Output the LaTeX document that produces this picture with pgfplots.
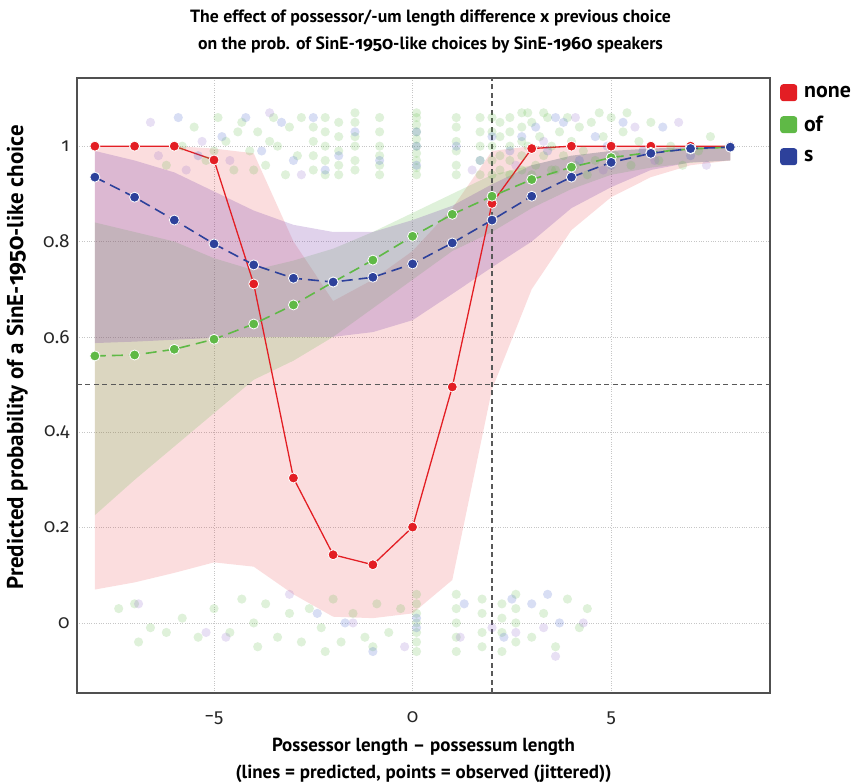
\documentclass[border=0pt]{standalone}
\usepackage{fontspec}
\setmainfont{PT Sans}
\newfontfamily\numfont[Numbers=OldStyle]{Fira Sans}
\usepackage{pgfplots}
\pgfplotsset{compat=1.18}
\definecolor{cR}{RGB}{227,30,36}
\definecolor{cG}{RGB}{95,185,70}
\definecolor{cB}{RGB}{45,65,155}
\definecolor{bandB}{RGB}{120,60,170}
\definecolor{sB}{RGB}{60,90,200}
\definecolor{sP}{RGB}{140,100,200}
\definecolor{frame}{RGB}{80,80,80}
\begin{document}
\begin{tikzpicture}
\begin{axis}[
  at={(0,0)}, anchor=south west,
  scale only axis,
  width=693bp, height=615bp,
  xmin=-8.45, xmax=9.0,
  ymin=-0.147, ymax=1.143,
  axis line style={frame, line width=1.2bp},
  xtick={-5,0,5}, xticklabels={−5,0,5},
  ytick={0,0.2,0.4,0.6,0.8,1}, yticklabels={0,0.2,0.4,0.6,0.8,1},
  major tick length=0pt,
  tick label style={font=\numfont\fontsize{19}{22}\selectfont, text=black!85},
  xticklabel style={yshift=-15bp},
  yticklabel style={xshift=-4bp},
  grid=major,
  major grid style={dotted, gray!45, line width=0.6bp},
  title={The effect of possessor/-um length difference x previous choice\\on the prob. of SinE-{\numfont 1950}-like choices by SinE-{\numfont 1960} speakers},
  title style={align=center, font=\bfseries\fontsize{17.8}{27}\selectfont, yshift=15.5bp, xshift=7bp},
  xlabel={Possessor length – possessum length\\(lines = predicted, points = observed (jittered))},
  xlabel style={align=center, font=\bfseries\fontsize{19}{27}\selectfont, yshift=-7bp},
  ylabel={Predicted probability of a SinE-{\numfont 1950}-like choice},
  ylabel style={at={(axis description cs:-0.066,0.546)}, anchor=south, font=\bfseries\fontsize{23}{26}\selectfont},
  legend style={at={(1,1)}, anchor=north west, xshift=10bp, yshift=-6bp, draw=none, fill=none,
    font=\bfseries\fontsize{22}{25}\selectfont, row sep=13bp, column sep=5bp, inner sep=0pt, cells={anchor=west}},
  legend image code/.code={\fill[rounded corners=3bp] (0bp,-8.5bp) rectangle (17bp,8.5bp);},
]
\addlegendimage{fill=cR, draw=none}\addlegendentry{none}
\addlegendimage{fill=cG, draw=none}\addlegendentry{of}
\addlegendimage{fill=cB, draw=none}\addlegendentry{s}

% confidence bands
\addplot[fill=cR, fill opacity=0.15, draw=none] coordinates {
(-8,1.0)(-7,1.0)(-6,1.0)(-5,0.995)(-4,0.985)(-3,0.80)(-2,0.675)(-1,0.72)(0,0.78)(1,0.87)(2,0.99)(3,1.0)(4,1.0)(5,1.0)(6,1.0)(7,1.0)(8,1.0)
(8,0.97)(7,0.96)(6,0.935)(5,0.893)(4,0.824)(3,0.70)(2,0.49)(1,0.09)(0,0.02)(-1,0.01)(-2,0.013)(-3,0.06)(-4,0.118)(-5,0.127)(-6,0.105)(-7,0.085)(-8,0.07)} -- cycle;
\addplot[fill=cG, fill opacity=0.2, draw=none] coordinates {
(-8,0.84)(-7,0.82)(-6,0.80)(-5,0.765)(-4,0.74)(-3,0.76)(-2,0.785)(-1,0.82)(0,0.86)(1,0.90)(2,0.94)(3,0.96)(4,0.98)(5,0.99)(6,0.995)(7,0.998)(8,0.999)
(8,0.97)(7,0.965)(6,0.955)(5,0.94)(4,0.91)(3,0.87)(2,0.82)(1,0.78)(0,0.72)(-1,0.66)(-2,0.60)(-3,0.55)(-4,0.51)(-5,0.44)(-6,0.37)(-7,0.30)(-8,0.226)} -- cycle;
\addplot[fill=bandB, fill opacity=0.23, draw=none] coordinates {
(-8,0.99)(-7,0.97)(-6,0.945)(-5,0.905)(-4,0.865)(-3,0.835)(-2,0.82)(-1,0.82)(0,0.845)(1,0.875)(2,0.92)(3,0.96)(4,0.98)(5,0.99)(6,0.995)(7,0.998)(8,0.999)
(8,0.97)(7,0.966)(6,0.95)(5,0.914)(4,0.87)(3,0.80)(2,0.746)(1,0.69)(0,0.635)(-1,0.61)(-2,0.60)(-3,0.60)(-4,0.60)(-5,0.598)(-6,0.594)(-7,0.59)(-8,0.587)} -- cycle;

% observed points (jittered)
\addplot[only marks, mark=*, mark size=4.6bp, color=cG, draw opacity=0, fill opacity=0.2, mark options={draw=none, draw opacity=0, fill=cG, fill opacity=0.2}] coordinates {
(0.1,0.94)(0.1,0.955)(0.1,0.97)(0.1,0.985)(0.1,1.0)(0.1,1.015)(0.1,1.03)(0.1,1.045)(0.1,1.06)(0.1,1.07)
(-0.83,0.94)(-0.83,0.96)(-0.83,0.98)(-0.83,1.0)(-0.83,1.03)(-0.83,1.06)
(1.1,0.94)(1.1,0.96)(1.1,0.99)(1.1,1.01)(1.1,1.04)(1.1,1.06)
(1.7,0.94)(1.7,0.97)(1.7,1.0)(1.7,1.03)(1.7,1.06)
(-1.45,0.95)(-1.45,0.97)(-1.45,1.0)(-1.45,1.02)(-1.45,1.05)(-1.45,1.07)
(-1.86,0.94)(-1.86,0.96)(-1.86,0.99)(-1.86,1.02)(-1.86,1.05)
(-2.2,0.94)(-2.2,0.97)(-2.2,1.0)(-2.2,1.03)(-2.2,1.06)
(-2.5,0.95)(-2.5,0.98)(-2.5,1.01)(-2.5,1.04)
(2.0,0.94)(2.0,0.97)(2.0,1.0)(2.0,1.03)(2.0,1.06)
(2.2,0.95)(2.2,0.98)(2.2,1.02)(2.2,1.05)
(2.45,0.94)(2.45,0.97)(2.45,1.0)(2.45,1.03)(2.45,1.06)
(2.75,0.95)(2.75,0.98)(2.75,1.01)(2.75,1.04)(2.75,1.07)
(-5.8,1.0)(-5.5,1.04)(-5.2,0.97)(-4.9,1.06)(-4.7,1.01)(-4.5,0.95)(-4.3,1.05)(-4.1,0.99)(-3.9,1.03)(-3.7,0.96)(-3.5,1.06)(-3.4,1.0)(-3.2,0.94)(-3.1,1.04)(-2.9,0.98)(-2.8,1.06)(-4.0,0.95)(-3.6,1.01)(-5.0,0.99)(-4.4,1.03)(-6.2,0.96)
(2.9,1.0)(3.0,1.05)(3.1,0.96)(3.2,1.02)(3.3,0.98)(3.4,1.06)(3.5,1.0)(3.6,0.95)(3.7,1.03)(3.8,0.98)(3.9,1.06)(4.0,1.01)(4.1,0.96)(4.2,1.04)(4.3,0.99)(4.5,1.05)(4.6,0.97)(4.8,1.02)(5.0,1.06)(5.1,0.98)(5.3,1.03)(5.5,0.96)(5.7,1.01)(6.0,1.05)(6.2,0.97)(6.5,1.0)(6.8,0.96)(7.2,0.99)(7.5,1.02)(3.0,0.94)(3.5,0.95)(4.4,0.94)(2.9,1.07)(3.3,1.07)(4.7,1.07)(5.4,1.07)
(-7.4,0.03)(-7.0,0.04)(-6.6,-0.01)(-6.2,-0.02)(-5.8,0.01)(-5.4,-0.03)(-5.0,0.03)(-4.6,-0.02)(-4.3,0.05)(-4.0,0.0)(-3.7,0.04)(-3.4,-0.03)(-3.1,0.02)(-2.8,-0.04)(-2.6,0.03)(-2.3,-0.01)(-2.0,0.05)(-1.8,-0.04)(-1.5,0.02)(-1.2,-0.03)(-0.9,0.04)(-0.6,-0.02)(-0.3,0.03)
(0.1,-0.06)(0.1,-0.04)(0.1,-0.02)(0.1,0.0)(0.1,0.02)(0.1,0.04)(0.1,0.06)
(1.1,-0.06)(1.1,-0.03)(1.1,0.0)(1.1,0.03)(1.1,0.06)
(1.75,-0.05)(1.75,-0.02)(1.75,0.02)(1.75,0.05)
(2.25,-0.06)(2.25,-0.02)(2.25,0.01)(2.25,0.04)
(2.6,-0.04)(2.6,0.0)(2.6,0.03)(2.6,0.06)
(3.0,-0.03)(3.3,0.02)(3.6,-0.05)(3.9,0.05)(4.2,-0.01)(4.4,0.03)(-6.9,-0.04)(-3.9,-0.05)(-2.2,-0.06)(-1.0,-0.05)};
\addplot[only marks, mark=*, mark size=4.6bp, color=sB, draw opacity=0, fill opacity=0.2, mark options={draw=none, draw opacity=0, fill=sB, fill opacity=0.2}] coordinates {
(-5.9,1.06)(-5.4,0.98)(-4.8,1.02)(-4.2,1.06)(-3.8,0.99)(-3.3,1.05)(-3.0,0.97)(-2.5,1.06)(-2.2,0.95)(-1.86,0.98)(-1.45,1.03)(-0.83,0.97)(0.1,0.96)(0.1,1.0)(0.1,1.03)(1.1,1.0)(1.7,0.97)(2.0,1.02)(2.45,0.99)(2.75,1.02)(3.1,1.04)(3.4,0.99)(3.8,1.05)(4.2,0.97)(4.6,1.02)(5.0,0.96)(5.3,1.05)(5.8,0.99)(6.3,1.04)(7.0,0.98)(3.6,1.06)(4.9,1.0)
(-2.4,0.02)(-1.7,0.0)(-1.0,-0.06)(0.1,-0.01)(0.1,0.01)(1.3,0.04)(2.5,0.05)(3.0,0.04)(3.4,0.06)(3.7,0.0)(2.3,-0.03)};
\addplot[only marks, mark=*, mark size=4.6bp, color=sP, draw opacity=0, fill opacity=0.2, mark options={draw=none, draw opacity=0, fill=sP, fill opacity=0.2}] coordinates {
(-6.6,1.05)(-6.4,0.98)(-5.7,0.95)(-5.3,1.01)(-4.6,0.97)(-3.6,1.07)(-2.8,0.94)(1.5,0.95)(2.6,0.96)(3.3,1.01)(4.1,1.06)(4.8,0.95)(5.6,1.04)(6.1,0.97)(6.7,1.05)(7.4,0.96)
(-6.9,0.04)(-5.2,-0.02)(-4.7,-0.03)(-3.1,0.06)(-1.5,0.0)(-0.2,-0.05)(1.2,-0.03)(2.0,-0.01)(2.6,-0.02)(3.3,-0.01)(4.3,0.0)(3.6,-0.07)};

% reference lines
\addplot[draw=black!65, line width=1.3bp, dash pattern=on 5bp off 3.5bp] coordinates {(-8.45,0.5)(9.0,0.5)};
\addplot[draw=black!65, line width=1.3bp, dash pattern=on 5bp off 3.5bp] coordinates {(2,-0.147)(2,1.143)};

% predicted lines
\addplot[draw=cR, line width=1.3bp, mark=*, mark size=5bp, mark options={solid, fill=cR, draw=white, line width=0.8bp}] coordinates {
(-8,1.0)(-7,1.0)(-6,1.0)(-5,0.971)(-4,0.711)(-3,0.304)(-2,0.143)(-1,0.122)(0,0.201)(1,0.495)(2,0.88)(3,0.995)(4,1.0)(5,1.0)(6,1.0)(7,1.0)(8,1.0)};
\addplot[draw=cG, line width=1.6bp, dash pattern=on 11bp off 6bp, mark=*, mark size=5bp, mark options={solid, fill=cG, draw=white, line width=0.8bp}] coordinates {
(-8,0.560)(-7,0.562)(-6,0.574)(-5,0.595)(-4,0.627)(-3,0.667)(-2,0.715)(-1,0.761)(0,0.811)(1,0.857)(2,0.895)(3,0.930)(4,0.956)(5,0.976)(6,0.987)(7,0.994)(8,0.998)};
\addplot[draw=cB, line width=1.6bp, dash pattern=on 11bp off 6bp, mark=*, mark size=5bp, mark options={solid, fill=cB, draw=white, line width=0.8bp}] coordinates {
(-8,0.935)(-7,0.893)(-6,0.845)(-5,0.795)(-4,0.751)(-3,0.723)(-2,0.715)(-1,0.725)(0,0.753)(1,0.797)(2,0.845)(3,0.895)(4,0.935)(5,0.966)(6,0.985)(7,0.995)(8,0.998)};
\end{axis}
\pgfresetboundingbox
\path (-77bp,-90bp) rectangle (778bp,693bp);
\end{tikzpicture}
\end{document}
